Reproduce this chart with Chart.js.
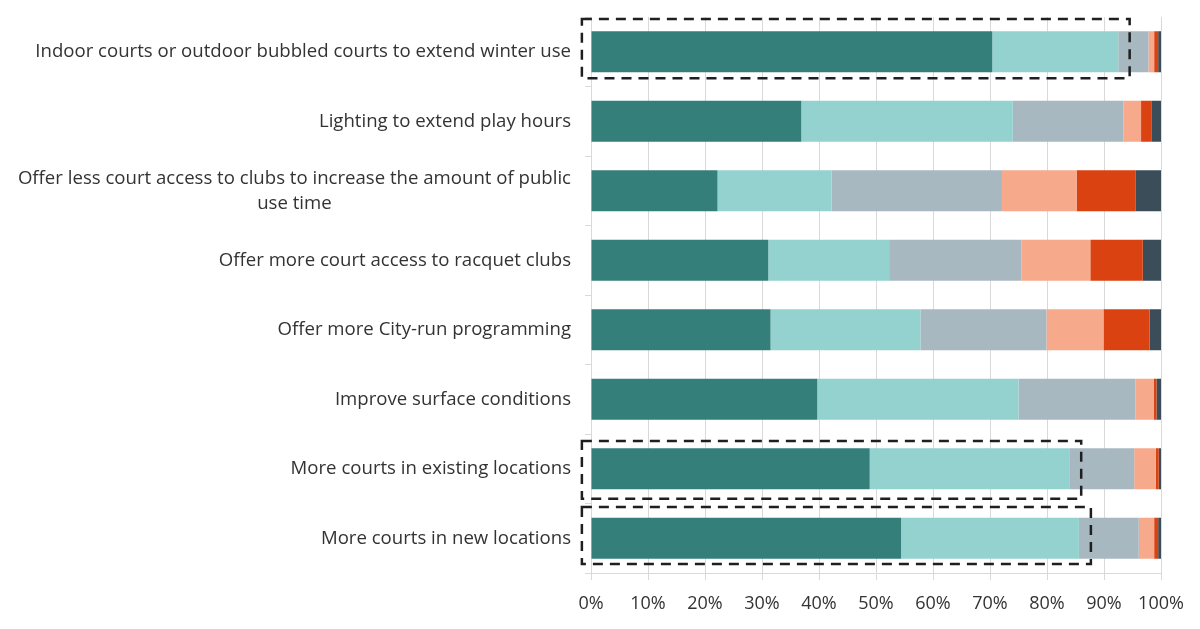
<!DOCTYPE html>
<html>
<head>
<meta charset="utf-8">
<script src="https://cdn.jsdelivr.net/npm/chart.js@4"></script>
<style>
  body { margin: 0; background: #fff; }
  #wrap { width: 1200px; height: 629px; }
</style>
</head>
<body>
<div id="wrap"><canvas id="grafico" width="1200" height="629"></canvas></div>
<script>
// categorias (de cima para baixo)
const categorias = [
    'Indoor courts or outdoor bubbled courts to extend winter use',
    'Lighting to extend play hours',
    ['Offer less court access to clubs to increase the amount of public', 'use time'],
    'Offer more court access to racquet clubs',
    'Offer more City-run programming',
    'Improve surface conditions',
    'More courts in existing locations',
    'More courts in new locations'
];

// percentuais por nível de resposta
const nivel1 = [70.4, 36.9, 22.2, 31.1, 31.5, 39.7, 48.9, 54.4];
const nivel2 = [22.1, 37.1, 20.0, 21.2, 26.3, 35.3, 35.0, 31.2];
const nivel3 = [5.3, 19.4, 29.9, 23.2, 22.1, 20.5, 11.4, 10.5];
const nivel4 = [1.0, 3.1, 13.1, 12.1, 10.0, 3.2, 3.8, 2.7];
const nivel5 = [0.7, 1.9, 10.3, 9.2, 8.1, 0.5, 0.5, 0.7];
const nivel6 = [0.5, 1.6, 4.5, 3.2, 2.0, 0.8, 0.4, 0.5];

const nomesNiveis = ['Level 1', 'Level 2', 'Level 3', 'Level 4', 'Level 5', 'Level 6'];
const cores = ['#357F7B', '#94D2D0', '#A8B8C1', '#F7A98B', '#DA4211', '#3A4D58'];

// marcações tracejadas (linha, % inicial, % final)
const destaques = [
    { linha: 0, de: -1.6, ate: 94.5, acima: 0.47, abaixo: 0.38 },
    { linha: 6, de: -1.6, ate: 86.0, acima: 0.40, abaixo: 0.43 },
    { linha: 7, de: -1.6, ate: 87.7, acima: 0.45, abaixo: 0.37 }
];

const fonte = '"Open Sans", "Noto Sans", sans-serif';
const corTexto = '#333333';

const series = [nivel1, nivel2, nivel3, nivel4, nivel5, nivel6];

// rótulos do eixo y (linha quebrada fica centralizada, como no Excel)
const rotulosY = {
    id: 'rotulosY',
    afterDraw(chart) {
        const ctx = chart.ctx;
        const y = chart.scales.y;
        const xDir = chart.chartArea.left - 20;
        ctx.save();
        ctx.font = '18.6px ' + fonte;
        ctx.fillStyle = corTexto;
        ctx.textAlign = 'center';
        ctx.textBaseline = 'middle';
        categorias.forEach((cat, i) => {
            const linhas = Array.isArray(cat) ? cat : [cat];
            const largura = Math.max(...linhas.map(l => ctx.measureText(l).width));
            const cx = xDir - largura / 2;
            const cy = y.getPixelForValue(i);
            linhas.forEach((l, k) => {
                ctx.fillText(l, cx, cy + (k - (linhas.length - 1) / 2) * 25);
            });
        });
        ctx.restore();
    }
};

const caixas = {
    id: 'caixas',
    afterDatasetsDraw(chart) {
        const ctx = chart.ctx;
        const x = chart.scales.x;
        const y = chart.scales.y;
        ctx.save();
        ctx.strokeStyle = '#1F1F1F';
        ctx.lineWidth = 2.5;
        ctx.setLineDash([10, 7]);
        destaques.forEach(d => {
            const x0 = x.getPixelForValue(d.de);
            const x1 = x.getPixelForValue(d.ate);
            const y0 = y.getPixelForValue(d.linha - d.acima);
            const y1 = y.getPixelForValue(d.linha + d.abaixo);
            ctx.strokeRect(x0, y0, x1 - x0, y1 - y0);
        });
        ctx.restore();
    }
};

const ctx = document.getElementById('grafico').getContext('2d');

new Chart(ctx, {
    type: 'bar',
    data: {
        labels: categorias,
        datasets: series.map((s, i) => ({
            label: nomesNiveis[i],
            data: s,
            backgroundColor: cores[i],
            borderWidth: 0,
            categoryPercentage: 1,
            barPercentage: 0.59
        }))
    },
    options: {
        indexAxis: 'y',
        responsive: false,
        animation: false,
        layout: { padding: { top: 17, right: 39, left: 0, bottom: 0 } },
        plugins: {
            legend: { display: false },
            tooltip: { enabled: false }
        },
        scales: {
            x: {
                stacked: true,
                min: 0,
                max: 100,
                ticks: {
                    stepSize: 10,
                    padding: 13,
                    color: corTexto,
                    font: { family: fonte, size: 18 },
                    callback: v => v + '%'
                },
                grid: {
                    color: '#D9D9D9',
                    tickLength: 7
                },
                border: { color: '#D9D9D9' },
                afterFit: s => { s.height = 56; }
            },
            y: {
                stacked: true,
                ticks: { display: false },
                grid: {
                    offset: true,
                    drawOnChartArea: false,
                    tickLength: 6,
                    color: '#D9D9D9'
                },
                border: { color: '#D9D9D9' },
                afterFit: s => { s.width = 591; }
            }
        }
    },
    plugins: [rotulosY, caixas]
});
</script>
</body>
</html>
